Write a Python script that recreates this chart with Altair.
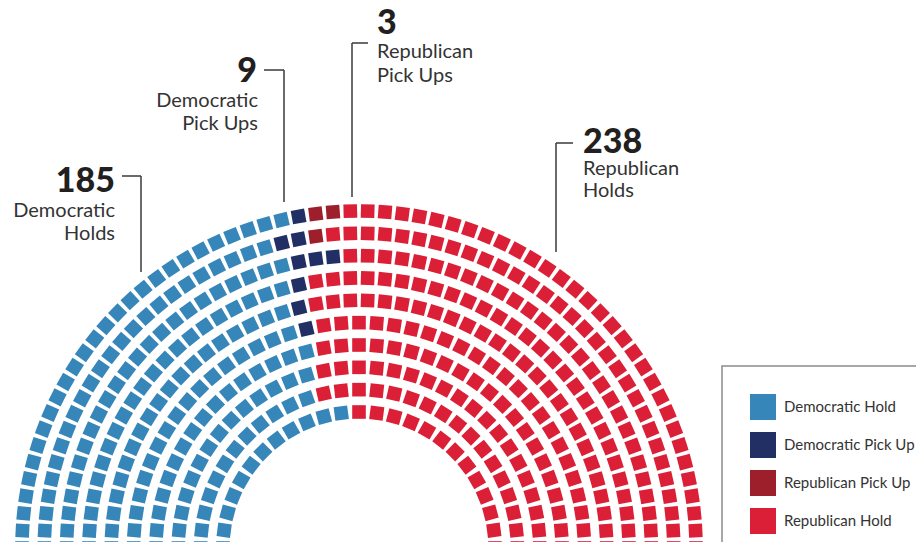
import math
import altair as alt
import pandas as pd

# ---- data ----
categories = ["Democratic Hold", "Democratic Pick Up", "Republican Pick Up", "Republican Hold"]
colors = ["#3786ba", "#212f65", "#9d1f2c", "#db1f37"]
totals = [185, 9, 3, 238]

# rows listed from the outer ring to the inner ring
row_seats = [62, 58, 54, 50, 46, 41, 37, 33, 29, 25]
row_dem_hold = [27, 24, 23, 21, 19, 17, 16, 14, 12, 12]
row_dem_pick = [1, 2, 3, 1, 1, 1, 0, 0, 0, 0]
row_rep_pick = [2, 1, 0, 0, 0, 0, 0, 0, 0, 0]

# annotation texts
ann_numbers = ["185", "9", "3", "238"]
ann_line1 = ["Democratic", "Democratic", "Republican", "Republican"]
ann_line2 = ["Holds", "Pick Ups", "Pick Ups", "Holds"]

# ---- layout (page pixel coordinates) ----
cx, cy = 359.0, 548.0
r_out, r_in = 337.0, 136.0
nrows = len(row_seats)
radii = [r_out - i * (r_out - r_in) / (nrows - 1) for i in range(nrows)]

rows = []
for i, n in enumerate(row_seats):
    r = radii[i]
    counts = [row_dem_hold[i], row_dem_pick[i], row_rep_pick[i],
              n - row_dem_hold[i] - row_dem_pick[i] - row_rep_pick[i]]
    labels = []
    for c, cnt in zip(categories, counts):
        labels += [c] * cnt
    for k in range(n):
        a = math.pi - k * math.pi / (n - 1)
        rows.append(dict(x=cx + r * math.cos(a), y=cy - r * math.sin(a),
                         rot=(90 - math.degrees(a)) % 360, party=labels[k]))
seats = pd.DataFrame(rows)

W, H = 908, 534
xs = alt.Scale(domain=[8, 8 + W], nice=False, zero=False)
ys = alt.Scale(domain=[8, 8 + H], nice=False, zero=False, reverse=True)

seat_layer = alt.Chart(seats).mark_square(size=185, opacity=1, strokeWidth=0, clip=False).encode(
    x=alt.X("x:Q", scale=xs, axis=None),
    y=alt.Y("y:Q", scale=ys, axis=None),
    angle=alt.Angle("rot:Q", scale=None),
    color=alt.Color("party:N", scale=alt.Scale(domain=categories, range=colors),
                    sort=categories, title=None),
)

# leader lines
lines = pd.DataFrame({
    "x": [122, 141, 264, 284, 368, 352, 573, 556],
    "y": [176, 176, 70, 70, 43, 43, 143, 143],
    "x2": [141, 141, 284, 284, 352, 352, 556, 556],
    "y2": [176, 272, 70, 202, 43, 197, 143, 252],
})
rule_layer = alt.Chart(lines).mark_rule(color="#3a3a3a", strokeWidth=1.5).encode(
    x=alt.X("x:Q", scale=xs, axis=None), y=alt.Y("y:Q", scale=ys, axis=None),
    x2="x2:Q", y2="y2:Q")

num_df = pd.DataFrame({"t": ann_numbers, "x": [115, 257, 377, 583], "y": [192, 82, 34, 153],
                       "side": ["r", "r", "l", "l"]})
lab_df = pd.DataFrame({
    "t": ann_line1 + ann_line2,
    "x": [115, 258, 377, 583] * 2,
    "y": [217, 107, 58, 175, 240, 130, 82, 197],
    "side": ["r", "r", "l", "l"] * 2,
})

def text_layer(df, side, size, weight, color):
    return alt.Chart(df[df.side == side]).mark_text(
        align="right" if side == "r" else "left", baseline="alphabetic",
        font="Lato", fontSize=size, fontWeight=weight, color=color).encode(
        x=alt.X("x:Q", scale=xs, axis=None), y=alt.Y("y:Q", scale=ys, axis=None), text="t:N")

chart = alt.layer(
    seat_layer, rule_layer,
    text_layer(num_df, "r", 34, 900, "#231f20"),
    text_layer(num_df, "l", 34, 900, "#231f20"),
    text_layer(lab_df, "r", 20, 400, "#333333"),
    text_layer(lab_df, "l", 20, 400, "#333333"),
).properties(width=W, height=H, padding=0, autosize="none").configure_view(
    stroke=None).configure_legend(
    orient="none", legendX=714, legendY=358, strokeColor="#8a8a8a", strokeWidth=1.5,
    fillColor="white", padding=28, symbolType="square", symbolSize=676,
    symbolStrokeWidth=0, symbolOpacity=1, labelFontSize=15, labelFont="Lato",
    labelColor="#333333", labelOffset=8, rowPadding=12, cornerRadius=0, labelLimit=300)

chart.save("out.html", embed_options={"renderer": "svg", "actions": False})
